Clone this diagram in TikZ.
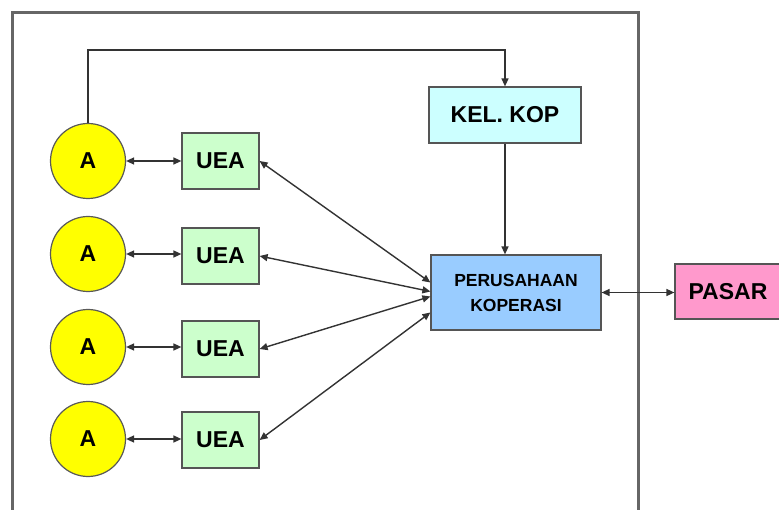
\documentclass[tikz,border=0pt]{standalone}
\usepackage{fontspec}
\setmainfont{Liberation Sans}
\usetikzlibrary{arrows.meta}
\definecolor{bordergray}{HTML}{555555}
\definecolor{framegray}{HTML}{666666}
\definecolor{linegray}{HTML}{333333}
\definecolor{cyanfill}{HTML}{CCFFFF}
\definecolor{bluefill}{HTML}{99CCFF}
\definecolor{pinkfill}{HTML}{FF99CC}
\definecolor{greenfill}{HTML}{CCFFCC}
\definecolor{yellowfill}{HTML}{FFFF00}
\tikzset{
  boxbase/.style={draw=bordergray, line width=1.2pt, inner sep=0pt, align=center,
    font=\fontsize{23}{25}\selectfont\bfseries},
  anggota/.style={boxbase, circle, fill=yellowfill, minimum size=75pt, draw=gray!70!black},
  ueabox/.style={boxbase, fill=greenfill, minimum width=77pt, minimum height=56pt},
  kelbox/.style={boxbase, fill=cyanfill, minimum width=152pt, minimum height=56pt},
  pkbox/.style={boxbase, fill=bluefill, minimum width=170pt, minimum height=75pt,
    font=\fontsize{17.5}{25}\selectfont\bfseries},
  pasarbox/.style={boxbase, fill=pinkfill, minimum width=106pt, minimum height=55pt},
  conn/.style={draw=linegray, line width=1.4pt, -{Triangle[length=8pt,width=7pt]}},
  bconn/.style={draw=linegray, line width=1.4pt, {Triangle[length=8pt,width=7pt]}-{Triangle[length=8pt,width=7pt]}}
}
\begin{document}
\begin{tikzpicture}[x=1pt,y=-1pt]
\useasboundingbox (0,0) rectangle (779,510);
% frame
\draw[framegray, line width=3pt] (12,530) -- (12,13) -- (638,13) -- (638,530);
% nodes
\node[kelbox] (kel) at (505,115) {KEL. KOP};
\node[pkbox] (pk) at (516,292.5) {PERUSAHAAN\\KOPERASI};
\node[pasarbox] (pasar) at (728,291.5) {PASAR};
\node[anggota, text depth=-4pt] (a1) at (88,161) {A};
\node[anggota, text depth=-4pt] (a2) at (88,254) {A};
\node[anggota, text depth=-4pt] (a3) at (88,347) {A};
\node[anggota, text depth=-4pt] (a4) at (88,439) {A};
\node[ueabox] (u1) at (220.5,161) {UEA};
\node[ueabox] (u2) at (220.5,256) {UEA};
\node[ueabox] (u3) at (220.5,349) {UEA};
\node[ueabox] (u4) at (220.5,440) {UEA};
\coordinate (topline) at (0,50);
% connectors
\draw[conn] (a1.north) -- (a1.north |- topline) -| (kel.north);
\draw[conn] (kel.south) -- (pk.north -| kel.south);
\draw[bconn] (pk.east) -- (pk.east -| pasar.west);
\draw[bconn] (a1.east) -- (a1.east -| u1.west);
\draw[bconn] (a2.east) -- (a2.east -| u2.west);
\draw[bconn] (a3.east) -- (a3.east -| u3.west);
\draw[bconn] (a4.east) -- (a4.east -| u4.west);
\draw[bconn] (u1.east) -- ([yshift=10pt]pk.west);
\draw[bconn] (u2.east) -- ([yshift=1pt]pk.west);
\draw[bconn] (u3.east) -- ([yshift=-4pt]pk.west);
\draw[bconn] (u4.east) -- ([yshift=-20pt]pk.west);
\end{tikzpicture}
\end{document}
